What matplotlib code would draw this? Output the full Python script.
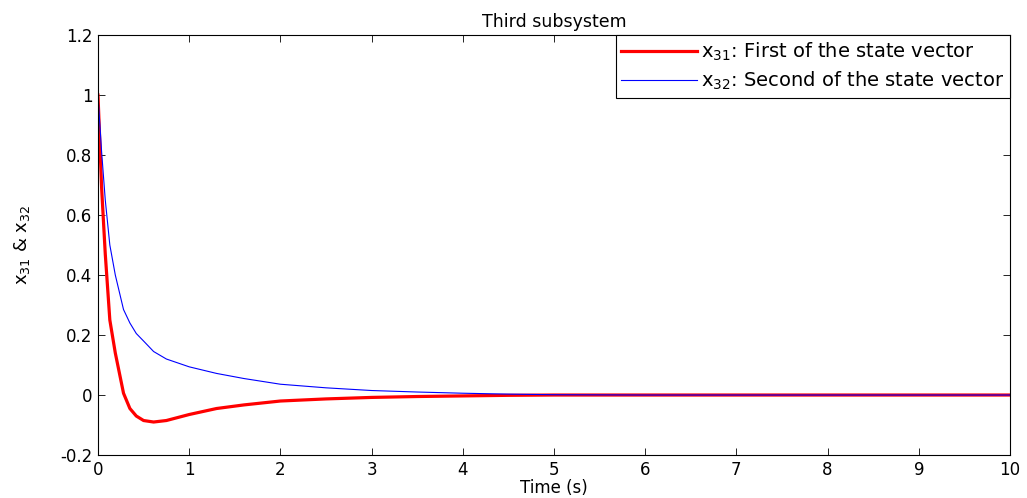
import matplotlib
matplotlib.use('Agg')
import matplotlib.pyplot as plt

plt.rcParams['font.family'] = ['DejaVu Sans']
plt.rcParams['mathtext.fontset'] = 'dejavusans'
plt.rcParams['mathtext.default'] = 'regular'
plt.rcParams['axes.unicode_minus'] = False

# values
time = [0, 0.04, 0.08, 0.13, 0.19, 0.28, 0.35, 0.42, 0.5, 0.61, 0.75, 1.0,
        1.3, 1.6, 2.0, 2.5, 3.0, 3.5, 4.0, 4.5, 5, 6, 7, 8, 9, 10]
x31 = [1, 0.69, 0.47, 0.25, 0.14, 0.006, -0.045, -0.07, -0.085, -0.09, -0.085, -0.065,
       -0.045, -0.033, -0.02, -0.013, -0.008, -0.005, -0.003, -0.001, 0, 0, 0, 0, 0, 0]
x32 = [1, 0.81, 0.65, 0.5, 0.4, 0.285, 0.24, 0.205, 0.18, 0.145, 0.12, 0.094,
       0.072, 0.055, 0.036, 0.024, 0.015, 0.01, 0.006, 0.003, 0.001, 0, 0, 0, 0, 0]

x_ticks = list(range(0, 11))
y_ticks = [-0.2, 0, 0.2, 0.4, 0.6, 0.8, 1, 1.2]
y_labels = ['-0.2', '0', '0.2', '0.4', '0.6', '0.8', '1', '1.2']

fig = plt.figure(figsize=(10.27, 4.98), dpi=100)
ax = fig.add_axes([0.0954, 0.0863, 0.888, 0.8434])

ax.plot(time, x31, color='#ff0000', linewidth=2.3, label=r'x$_{31}$: First of the state vector')
ax.plot(time, x32, color='#0000ff', linewidth=0.8, label=r'x$_{32}$: Second of the state vector')

ax.set_xlim(0, 10)
ax.set_ylim(-0.2, 1.2)
ax.set_xticks(x_ticks)
ax.set_yticks(y_ticks)
ax.set_yticklabels(y_labels)
ax.tick_params(direction='in', top=True, right=True, labelsize=12, length=5, width=0.6, pad=4)
for s in ax.spines.values():
    s.set_linewidth(0.8)

ax.set_xlabel('Time (s)', fontsize=12, labelpad=0)
ax.set_ylabel(r'x$_{31}$ & x$_{32}$', fontsize=13, labelpad=20)
ax.set_title('Third subsystem', fontsize=12.5, pad=6)

leg = ax.legend(loc='upper right', borderaxespad=0, fontsize=14, handlelength=3.9,
                handletextpad=0.2, fancybox=False, edgecolor='black', framealpha=1,
                borderpad=0.3, labelspacing=0.35)
leg.get_frame().set_linewidth(0.8)

plt.savefig('out.png', dpi=100)
